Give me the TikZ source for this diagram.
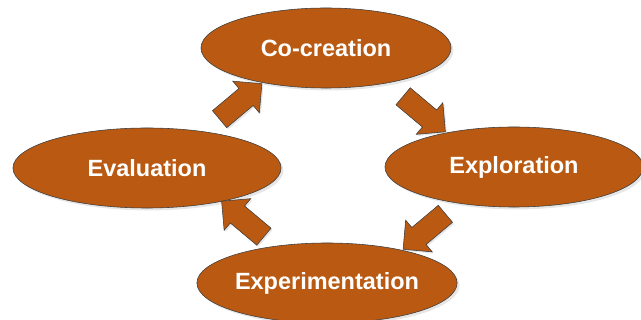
\documentclass[tikz,border=0pt]{standalone}
\usepackage{fontspec}
\setmainfont{Liberation Sans}
\usetikzlibrary{shapes,shapes.arrows,shadows,calc}
\definecolor{rust}{RGB}{186,90,18}
\definecolor{rim}{RGB}{60,60,60}

\tikzset{
  stage/.style={draw=rim, ellipse, fill=rust, text=white, inner sep=0pt,
    font=\fontsize{16.7}{20}\selectfont\bfseries, minimum height=2cm,
    drop shadow={opacity=0.2, shadow xshift=0.06cm, shadow yshift=-0.06cm}},
  turn/.style={draw=rim, single arrow, fill=rust, inner xsep=0pt, inner ysep=0.27cm,
    minimum height=1.38cm, single arrow head extend=0.24cm,
    drop shadow={opacity=0.2, shadow xshift=0.04cm, shadow yshift=-0.04cm}}
}

\begin{document}
\begin{tikzpicture}[x=0.025cm, y=-0.025cm]
\useasboundingbox (0,0) rectangle (641,320);
\node[stage, minimum width=6.25cm] (C) at (326,48) {Co-creation};
\node[stage, minimum width=6.45cm] (X) at (514,167) {Exploration};
\node[stage, minimum width=6.7cm] (V) at (147,168) {Evaluation};
\node[stage, minimum width=6.3cm] (E) at (327,283) {Experimentation};
%==========
\node[turn, rotate=40] (VC) at ($(V)!0.5!(C)+(0,-3)$) {};
\node[turn, rotate=-40] (CX) at ($(C)!0.5!(X)+(0,3)$) {};
\node[turn, rotate=-140] (XE) at ($(X)!0.5!(E)+(8,3)$) {};
\node[turn, rotate=140] (EV) at ($(E)!0.5!(V)+(10,-3)$) {};
\end{tikzpicture}
\end{document}
